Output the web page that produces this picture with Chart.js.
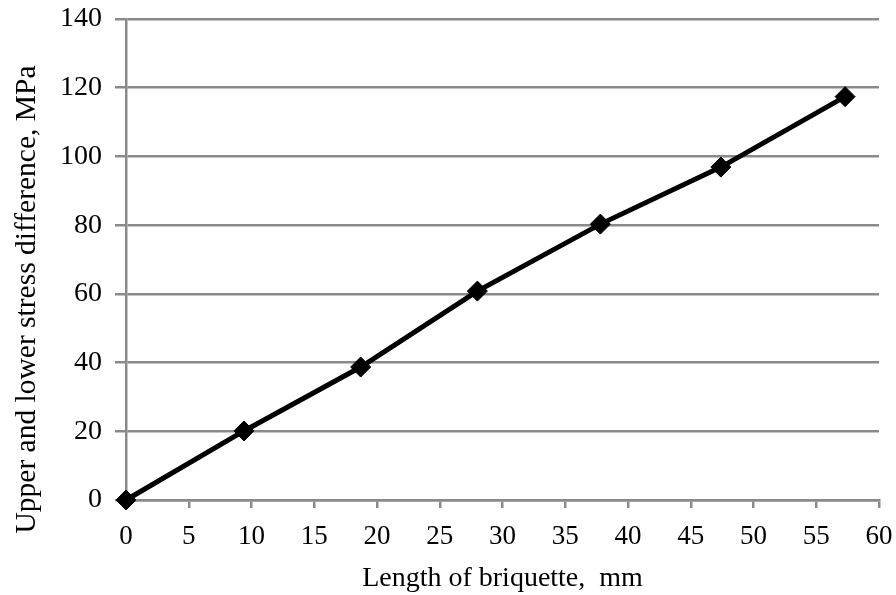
<!DOCTYPE html>
<html>
<head>
<meta charset="utf-8">
<script src="https://cdn.jsdelivr.net/npm/chart.js@4.4.1/dist/chart.umd.min.js"></script>
<style>
html,body{margin:0;padding:0;background:#fff;}
#wrap{width:896px;height:595px;}
</style>
</head>
<body>
<div id="wrap"><canvas id="c" width="896" height="595"></canvas></div>
<script>
const lengthMm = [0, 9.4, 18.7, 28.0, 37.8, 47.4, 57.3];
const stressDiff = [0, 20.1, 38.7, 60.8, 80.3, 96.9, 117.4];
const xTitle = 'Length of briquette,  mm';
const yTitle = 'Upper and lower stress difference, MPa';

const points = lengthMm.map((x, i) => ({x: x, y: stressDiff[i]}));
const gridGray = '#8a8a8a';
const font = 'Liberation Serif';

// y-axis title drawn as real canvas text, placed lower than the axis centre as in the reference
const yTitlePlugin = {
  id: 'yTitlePlugin',
  afterDraw(chart) {
    const ctx = chart.ctx;
    ctx.save();
    ctx.translate(35, 299.5);
    ctx.rotate(-Math.PI / 2);
    ctx.font = '29.5px "' + font + '"';
    ctx.fillStyle = '#000';
    ctx.textAlign = 'center';
    ctx.textBaseline = 'alphabetic';
    ctx.fillText(yTitle, 0, 0);
    ctx.restore();
  }
};

new Chart(document.getElementById('c'), {
  type: 'scatter',
  data: {
    datasets: [{
      data: points,
      showLine: true,
      clip: false,
      borderColor: '#000',
      borderWidth: 5,
      backgroundColor: '#000',
      pointStyle: 'rectRot',
      pointRadius: 10,
      pointBorderWidth: 1,
      pointBorderColor: '#000',
      pointBackgroundColor: '#000',
      tension: 0
    }]
  },
  options: {
    responsive: false,
    animation: false,
    layout: {padding: {left: 0, right: 17, top: 19, bottom: 0}},
    plugins: {legend: {display: false}, tooltip: {enabled: false}},
    scales: {
      x: {
        type: 'linear',
        min: 0, max: 60,
        ticks: {stepSize: 5, color: '#000', font: {family: font, size: 27}, padding: 13, maxRotation: 0},
        grid: {drawOnChartArea: false, drawTicks: true, tickLength: 8, color: gridGray, lineWidth: 2.5},
        border: {display: true, color: gridGray, width: 2.5},
        title: {display: true, text: xTitle, color: '#000', font: {family: font, size: 28}, padding: {top: 2, bottom: 0}},
        afterFit: (s) => { s.height = 95; s.paddingLeft = 0; s.paddingRight = 0; }
      },
      y: {
        min: 0, max: 140,
        ticks: {stepSize: 20, color: '#000', font: {family: font, size: 28}, padding: 13},
        grid: {drawTicks: true, tickLength: 11, color: gridGray, lineWidth: 2.5},
        border: {display: true, color: gridGray, width: 2.5},
        title: {display: false, text: yTitle},
        afterFit: (s) => { s.width = 126; s.paddingTop = 0; s.paddingBottom = 0; }
      }
    }
  },
  plugins: [yTitlePlugin]
});
</script>
</body>
</html>
